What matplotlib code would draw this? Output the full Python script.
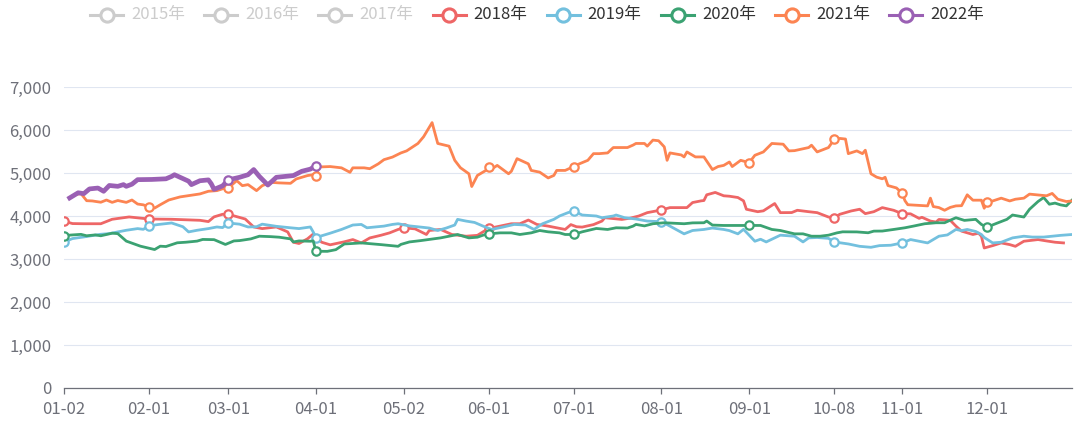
import matplotlib.pyplot as plt
import pandas as pd

plt.rcParams['font.family'] = ['Noto Sans CJK SC', 'DejaVu Sans']

# category axis: MM-DD of the year, National Day holiday removed
days = pd.date_range('2021-01-02', '2021-12-31').strftime('%m-%d')
cats = [d for d in days if not ('10-01' <= d <= '10-07')]
pos = {d: i for i, d in enumerate(cats)}

tick_labels = ['01-02', '02-01', '03-01', '04-01', '05-02', '06-01',
               '07-01', '08-01', '09-01', '10-08', '11-01', '12-01']
yticks = [0, 1000, 2000, 3000, 4000, 5000, 6000, 7000]

legend_years = ['2015年', '2016年', '2017年', '2018年', '2019年', '2020年', '2021年', '2022年']
legend_colors = ['#cccccc', '#cccccc', '#cccccc', '#ee6666', '#73c0de', '#3ba272', '#fc8452', '#9a60b4']
legend_on = [False, False, False, True, True, True, True, True]

dates_2018 = ['01-02', '01-05', '01-09', '01-15', '01-19', '01-25', '02-01', '02-09', '02-19', '02-22',
              '02-24', '02-27', '03-01', '03-07', '03-10', '03-13', '03-18', '03-22', '03-24', '03-26',
              '03-29', '03-31', '04-03', '04-06', '04-11', '04-14', '04-17', '04-20', '04-24', '04-27',
              '04-30', '05-02', '05-06', '05-10', '05-11', '05-15', '05-19', '05-24', '05-28', '05-30',
              '06-01', '06-05', '06-09', '06-12', '06-15', '06-18', '06-22', '06-25', '06-28', '06-30',
              '07-02', '07-04', '07-08', '07-11', '07-12', '07-18', '07-21', '07-24', '07-27', '08-01',
              '08-04', '08-10', '08-12', '08-15', '08-16', '08-17', '08-20', '08-23', '08-25', '08-28',
              '08-30', '08-31', '09-04', '09-06', '09-10', '09-12', '09-16', '09-18', '09-22', '09-25',
              '09-29', '10-08', '10-10', '10-14', '10-17', '10-19', '10-22', '10-25', '10-29', '11-01',
              '11-04', '11-07', '11-08', '11-11', '11-13', '11-14', '11-18', '11-20', '11-22', '11-26',
              '11-28', '11-29', '11-30', '12-03', '12-06', '12-09', '12-11', '12-14', '12-19', '12-22',
              '12-25', '12-28']
vals_2018 = [3880, 3824, 3820, 3820, 3924, 3978, 3930, 3924, 3900, 3870,
             3980, 4040, 4040, 3930, 3745, 3707, 3745, 3630, 3390, 3360,
             3470, 3580, 3390, 3330, 3400, 3452, 3374, 3490, 3553, 3608,
             3687, 3726, 3700, 3570, 3663, 3687, 3570, 3530, 3550, 3632,
             3710, 3765, 3820, 3820, 3906, 3804, 3765, 3726, 3687, 3800,
             3750, 3742, 3800, 3882, 3960, 3920, 3950, 4000, 4078, 4140,
             4195, 4195, 4313, 4352, 4360, 4493, 4548, 4470, 4460, 4430,
             4352, 4157, 4100, 4120, 4290, 4078, 4080, 4133, 4100, 4078,
             3976, 3960, 4040, 4117, 4157, 4055, 4100, 4195, 4133, 4055,
             4050, 3945, 3970, 3882, 3860, 3920, 3900, 3765, 3648, 3570,
             3600, 3530, 3256, 3311, 3374, 3335, 3295, 3413, 3452, 3420,
             3390, 3374]

dates_2019 = ['01-02', '01-05', '01-09', '01-15', '01-18', '01-21', '01-24', '01-28', '01-30', '02-01',
              '02-04', '02-09', '02-13', '02-15', '02-18', '02-22', '02-25', '02-27', '03-01', '03-05',
              '03-08', '03-11', '03-13', '03-18', '03-23', '03-26', '03-30', '03-31', '04-01', '04-06',
              '04-10', '04-14', '04-17', '04-19', '04-25', '04-28', '04-30', '05-04', '05-08', '05-11',
              '05-14', '05-17', '05-20', '05-21', '05-24', '05-27', '05-30', '06-02', '06-06', '06-10',
              '06-14', '06-17', '06-20', '06-24', '06-26', '06-29', '07-01', '07-04', '07-09', '07-11',
              '07-15', '07-16', '07-19', '07-23', '07-27', '08-01', '08-04', '08-09', '08-12', '08-16',
              '08-19', '08-23', '08-25', '08-28', '08-30', '09-03', '09-05', '09-07', '09-10', '09-12',
              '09-17', '09-20', '09-22', '09-25', '09-29', '10-08', '10-13', '10-17', '10-21', '10-24',
              '10-28', '11-01', '11-04', '11-07', '11-10', '11-14', '11-17', '11-20', '11-22', '11-24',
              '11-27', '11-29', '11-30', '12-03', '12-06', '12-10', '12-14', '12-17', '12-21', '12-24',
              '12-27', '12-31']
vals_2019 = [3396, 3475, 3513, 3575, 3590, 3630, 3668, 3707, 3690, 3768,
             3800, 3838, 3750, 3630, 3668, 3707, 3745, 3730, 3838, 3810,
             3745, 3750, 3810, 3760, 3726, 3707, 3745, 3630, 3500, 3600,
             3687, 3790, 3804, 3726, 3765, 3804, 3820, 3770, 3742, 3720,
             3663, 3720, 3790, 3922, 3882, 3850, 3765, 3687, 3742, 3804,
             3790, 3687, 3820, 3922, 4000, 4078, 4117, 4023, 4000, 3960,
             4000, 4023, 3960, 3930, 3882, 3867, 3765, 3585, 3663, 3687,
             3720, 3687, 3660, 3585, 3690, 3413, 3460, 3397, 3491, 3554,
             3530, 3397, 3491, 3500, 3480, 3397, 3350, 3295, 3272, 3311,
             3320, 3374, 3452, 3413, 3374, 3530, 3560, 3687, 3660, 3687,
             3640, 3570, 3500, 3374, 3390, 3491, 3530, 3510, 3510, 3530,
             3550, 3570]

dates_2020 = ['01-02', '01-05', '01-08', '01-10', '01-13', '01-15', '01-19', '01-21', '01-24', '01-29',
              '02-03', '02-05', '02-07', '02-11', '02-14', '02-18', '02-20', '02-24', '02-28', '03-03',
              '03-05', '03-09', '03-12', '03-16', '03-19', '03-23', '03-24', '03-26', '03-30', '03-31',
              '04-01', '04-05', '04-08', '04-11', '04-13', '04-17', '04-24', '04-30', '05-01', '05-04',
              '05-08', '05-15', '05-18', '05-21', '05-25', '05-28', '05-30', '06-01', '06-05', '06-09',
              '06-12', '06-16', '06-19', '06-22', '06-26', '06-28', '07-01', '07-04', '07-09', '07-13',
              '07-16', '07-20', '07-22', '07-23', '07-26', '07-29', '08-02', '08-09', '08-12', '08-16',
              '08-17', '08-19', '08-23', '08-28', '09-01', '09-05', '09-09', '09-12', '09-17', '09-20',
              '09-23', '09-26', '09-29', '10-09', '10-11', '10-16', '10-20', '10-22', '10-25', '10-29',
              '11-02', '11-05', '11-09', '11-13', '11-16', '11-20', '11-23', '11-27', '11-29', '12-01',
              '12-04', '12-08', '12-10', '12-14', '12-16', '12-19', '12-21', '12-23', '12-25', '12-27',
              '12-29', '12-31']
vals_2020 = [3545, 3560, 3573, 3540, 3560, 3540, 3600, 3590, 3416, 3298,
             3220, 3298, 3290, 3377, 3390, 3416, 3455, 3450, 3338, 3420,
             3428, 3468, 3530, 3520, 3507, 3468, 3397, 3420, 3413, 3420,
             3180, 3178, 3217, 3350, 3357, 3374, 3334, 3295, 3340, 3397,
             3428, 3491, 3530, 3570, 3491, 3507, 3554, 3585, 3608, 3608,
             3570, 3608, 3663, 3632, 3608, 3570, 3570, 3632, 3710, 3687,
             3726, 3720, 3765, 3804, 3770, 3820, 3843, 3820, 3840, 3843,
             3882, 3789, 3780, 3780, 3780, 3780, 3687, 3663, 3585, 3585,
             3530, 3530, 3554, 3608, 3632, 3630, 3610, 3648, 3650, 3687,
             3726, 3765, 3820, 3843, 3843, 3960, 3898, 3922, 3804, 3740,
             3820, 3922, 4023, 3976, 4157, 4337, 4430, 4274, 4300, 4258,
             4235, 4368]

dates_2021 = ['01-04', '01-06', '01-08', '01-10', '01-12', '01-15', '01-17', '01-19', '01-21', '01-24',
              '01-26', '01-28', '01-30', '02-01', '02-03', '02-05', '02-08', '02-12', '02-15', '02-19',
              '02-22', '02-25', '02-28', '03-01', '03-04', '03-06', '03-08', '03-11', '03-13', '03-16',
              '03-19', '03-23', '03-25', '03-29', '03-31', '04-01', '04-02', '04-06', '04-10', '04-13',
              '04-14', '04-18', '04-20', '04-23', '04-25', '04-28', '05-01', '05-03', '05-07', '05-09',
              '05-11', '05-12', '05-14', '05-18', '05-20', '05-22', '05-25', '05-26', '05-28', '05-31',
              '06-01', '06-02', '06-04', '06-08', '06-09', '06-11', '06-15', '06-16', '06-19', '06-22',
              '06-24', '06-25', '06-28', '07-01', '07-03', '07-06', '07-08', '07-10', '07-13', '07-15',
              '07-20', '07-22', '07-23', '07-26', '07-27', '07-29', '07-31', '08-02', '08-03', '08-04',
              '08-08', '08-09', '08-10', '08-13', '08-16', '08-19', '08-21', '08-23', '08-25', '08-26',
              '08-29', '09-01', '09-03', '09-06', '09-09', '09-13', '09-15', '09-17', '09-22', '09-23',
              '09-25', '09-29', '10-08', '10-10', '10-12', '10-13', '10-16', '10-18', '10-19', '10-21',
              '10-23', '10-25', '10-26', '10-27', '10-30', '11-01', '11-02', '11-03', '11-06', '11-10',
              '11-11', '11-12', '11-14', '11-16', '11-18', '11-20', '11-22', '11-24', '11-26', '11-29',
              '11-30', '12-01', '12-03', '12-06', '12-09', '12-11', '12-14', '12-16', '12-19', '12-22',
              '12-24', '12-26', '12-29', '12-31']
vals_2021 = [4428, 4500, 4521, 4356, 4350, 4320, 4372, 4317, 4360, 4317,
             4372, 4278, 4260, 4210, 4184, 4262, 4372, 4444, 4473, 4513,
             4575, 4590, 4653, 4650, 4822, 4705, 4730, 4590, 4705, 4783,
             4770, 4760, 4861, 4940, 4960, 4920, 5140, 5150, 5120, 5016,
             5120, 5120, 5100, 5213, 5310, 5370, 5467, 5514, 5687, 5843,
             6063, 6172, 5687, 5624, 5295, 5123, 4982, 4685, 4943, 5060,
             5130, 5090, 5177, 4982, 5040, 5334, 5213, 5060, 5020, 4885,
             4943, 5060, 5060, 5150, 5213, 5295, 5450, 5450, 5467, 5592,
             5592, 5650, 5687, 5687, 5624, 5765, 5750, 5608, 5295, 5467,
             5420, 5374, 5490, 5374, 5374, 5080, 5150, 5177, 5256, 5150,
             5295, 5240, 5412, 5490, 5687, 5670, 5514, 5520, 5592, 5647,
             5490, 5592, 5780, 5804, 5790, 5450, 5514, 5450, 5530, 4982,
             4904, 4865, 4900, 4708, 4653, 4530, 4356, 4262, 4250, 4235,
             4415, 4220, 4196, 4133, 4200, 4235, 4240, 4493, 4368, 4368,
             4180, 4330, 4350, 4415, 4350, 4390, 4415, 4509, 4490, 4470,
             4525, 4390, 4337, 4350]

dates_2022 = ['01-04', '01-07', '01-09', '01-11', '01-14', '01-16', '01-18', '01-21', '01-23', '01-24',
              '01-26', '01-28', '02-02', '02-07', '02-09', '02-10', '02-12', '02-15', '02-16', '02-17',
              '02-19', '02-22', '02-23', '02-24', '02-27', '03-01', '03-05', '03-08', '03-10', '03-12',
              '03-15', '03-18', '03-24', '03-27', '03-30', '04-01']
vals_2022 = [4420, 4540, 4520, 4630, 4650, 4575, 4710, 4690, 4730, 4690,
             4740, 4845, 4850, 4865, 4920, 4960, 4900, 4810, 4730, 4760,
             4820, 4840, 4750, 4620, 4700, 4840, 4900, 4960, 5080, 4920,
             4720, 4900, 4940, 5040, 5090, 5170]

series = [
    (dates_2018, vals_2018, '#ee6666', 2.0),
    (dates_2019, vals_2019, '#73c0de', 2.0),
    (dates_2020, vals_2020, '#3ba272', 2.0),
    (dates_2021, vals_2021, '#fc8452', 2.0),
    (dates_2022, vals_2022, '#9a60b4', 3.4),
]

W, H = 1080, 426
fig = plt.figure(figsize=(W / 100, H / 100), dpi=100)
ax = fig.add_axes([64 / W, 38 / H, 1008 / W, 301 / H])

for k, (ds, vs, c, lw) in enumerate(series):
    xs = [pos[d] for d in ds]
    ax.plot(xs, vs, color=c, lw=lw, solid_joinstyle='round', zorder=3 + k)
    mk = [i for i, d in enumerate(ds) if d in tick_labels]
    ax.plot([xs[i] for i in mk], [vs[i] for i in mk], ls='none', marker='o',
            ms=6, mfc='white', mec=c, mew=1.6, zorder=3 + k)

ax.set_xlim(0, len(cats) - 1)
ax.set_ylim(0, 7000)
ax.set_xticks([pos[d] for d in tick_labels])
ax.set_xticklabels(tick_labels)
ax.set_yticks(yticks)
ax.set_yticklabels([f'{v:,}' for v in yticks])
ax.yaxis.grid(True, color='#e0e6f1', lw=0.8)
ax.set_axisbelow(True)
for s in ['top', 'right', 'left']:
    ax.spines[s].set_visible(False)
ax.spines['bottom'].set_color('#6e7079')
ax.spines['bottom'].set_linewidth(0.9)
ax.tick_params(axis='x', colors='#6e7079', length=4, width=0.9, pad=5, labelsize=12)
ax.tick_params(axis='y', colors='#6e7079', length=0, pad=9, labelsize=12)

# legend drawn in pixel coordinates
lax = fig.add_axes([0, 0, 1, 1], facecolor='none')
lax.set_xlim(0, W)
lax.set_ylim(H, 0)
lax.axis('off')
for i, (name, c, on) in enumerate(zip(legend_years, legend_colors, legend_on)):
    x0 = 90 + i * 114.2
    lax.plot([x0, x0 + 33], [15, 15], color=c, lw=2.2)
    lax.plot([x0 + 16.5], [15], marker='o', ms=9.5, mfc='white', mec=c, mew=2.2)
    lax.text(x0 + 41, 15, name, color='#333333' if on else '#cccccc',
             fontsize=12, va='center', ha='left')

fig.savefig('out.png', dpi=100)
